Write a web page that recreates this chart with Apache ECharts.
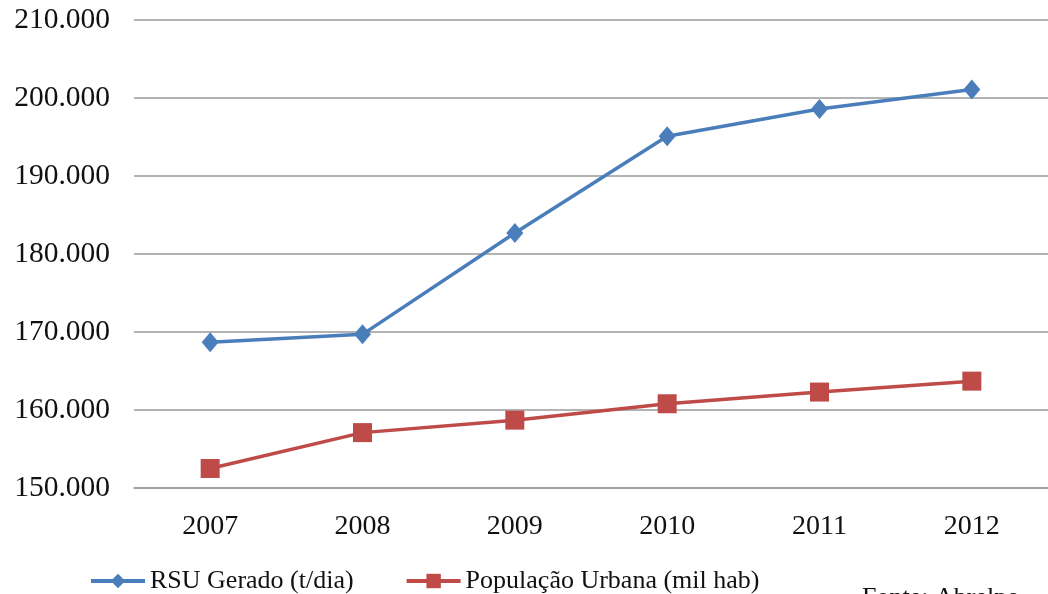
<!DOCTYPE html>
<html>
<head>
<meta charset="utf-8">
<script src="https://cdn.jsdelivr.net/npm/echarts@6/dist/echarts.min.js"></script>
<style>
  html, body { margin: 0; padding: 0; background: #ffffff; }
  #chart { width: 1048px; height: 594px; }
</style>
</head>
<body>
<div id="chart"></div>
<script>
// Anos
const years = ['2007', '2008', '2009', '2010', '2011', '2012'];
// RSU gerado (t/dia)
const rsuGerado = [168700, 169700, 182700, 195100, 198600, 201100];
// População urbana (mil hab)
const populacaoUrbana = [152500, 157100, 158700, 160800, 162300, 163700];
// Escala do eixo vertical
const yMin = 150000;
const yMax = 210000;
const yStep = 10000;

const serif = '"Liberation Serif", "DejaVu Serif", serif';

function fmtThousands(v) {
  return String(Math.round(v)).replace(/\B(?=(\d{3})+(?!\d))/g, '.');
}

const chart = echarts.init(document.getElementById('chart'), null, { renderer: 'canvas' });

chart.setOption({
  backgroundColor: '#ffffff',
  animation: false,
  grid: { left: 134, top: 20, width: 918, bottom: 106, containLabel: false },
  xAxis: {
    type: 'category',
    data: years,
    boundaryGap: true,
    axisLine: { show: true, lineStyle: { color: '#9a9a9a', width: 1.5 } },
    axisTick: { show: false },
    axisLabel: { margin: 25, fontFamily: serif, fontSize: 28, color: '#111111' }
  },
  yAxis: {
    type: 'value',
    min: yMin,
    max: yMax,
    interval: yStep,
    axisLine: { show: false },
    axisTick: { show: false },
    splitLine: { lineStyle: { color: '#9a9a9a', width: 1.5 } },
    axisLabel: {
      margin: 24,
      fontFamily: serif,
      fontSize: 29.5,
      color: '#111111',
      formatter: fmtThousands
    }
  },
  legend: {
    left: 84,
    top: 563,
    itemWidth: 54,
    itemHeight: 18,
    itemGap: 51,
    lineStyle: { width: 4 },
    textStyle: { fontFamily: serif, fontSize: 26, color: '#111111' },
    data: ['RSU Gerado (t/dia)', 'População Urbana (mil hab)']
  },
  series: [
    {
      name: 'RSU Gerado (t/dia)',
      type: 'line',
      data: rsuGerado,
      symbol: 'diamond',
      symbolSize: [17, 20],
      lineStyle: { color: '#4a7ebb', width: 3.5 },
      itemStyle: { color: '#4a7ebb' }
    },
    {
      name: 'População Urbana (mil hab)',
      type: 'line',
      data: populacaoUrbana,
      symbol: 'rect',
      symbolSize: 19,
      lineStyle: { color: '#be4b48', width: 3.5 },
      itemStyle: { color: '#be4b48' }
    }
  ],
  graphic: [
    {
      type: 'text',
      left: 862,
      top: 585,
      style: {
        text: 'Fonte: Abrelpe',
        font: '26px ' + serif,
        fill: '#111111'
      }
    }
  ]
});
</script>
</body>
</html>
